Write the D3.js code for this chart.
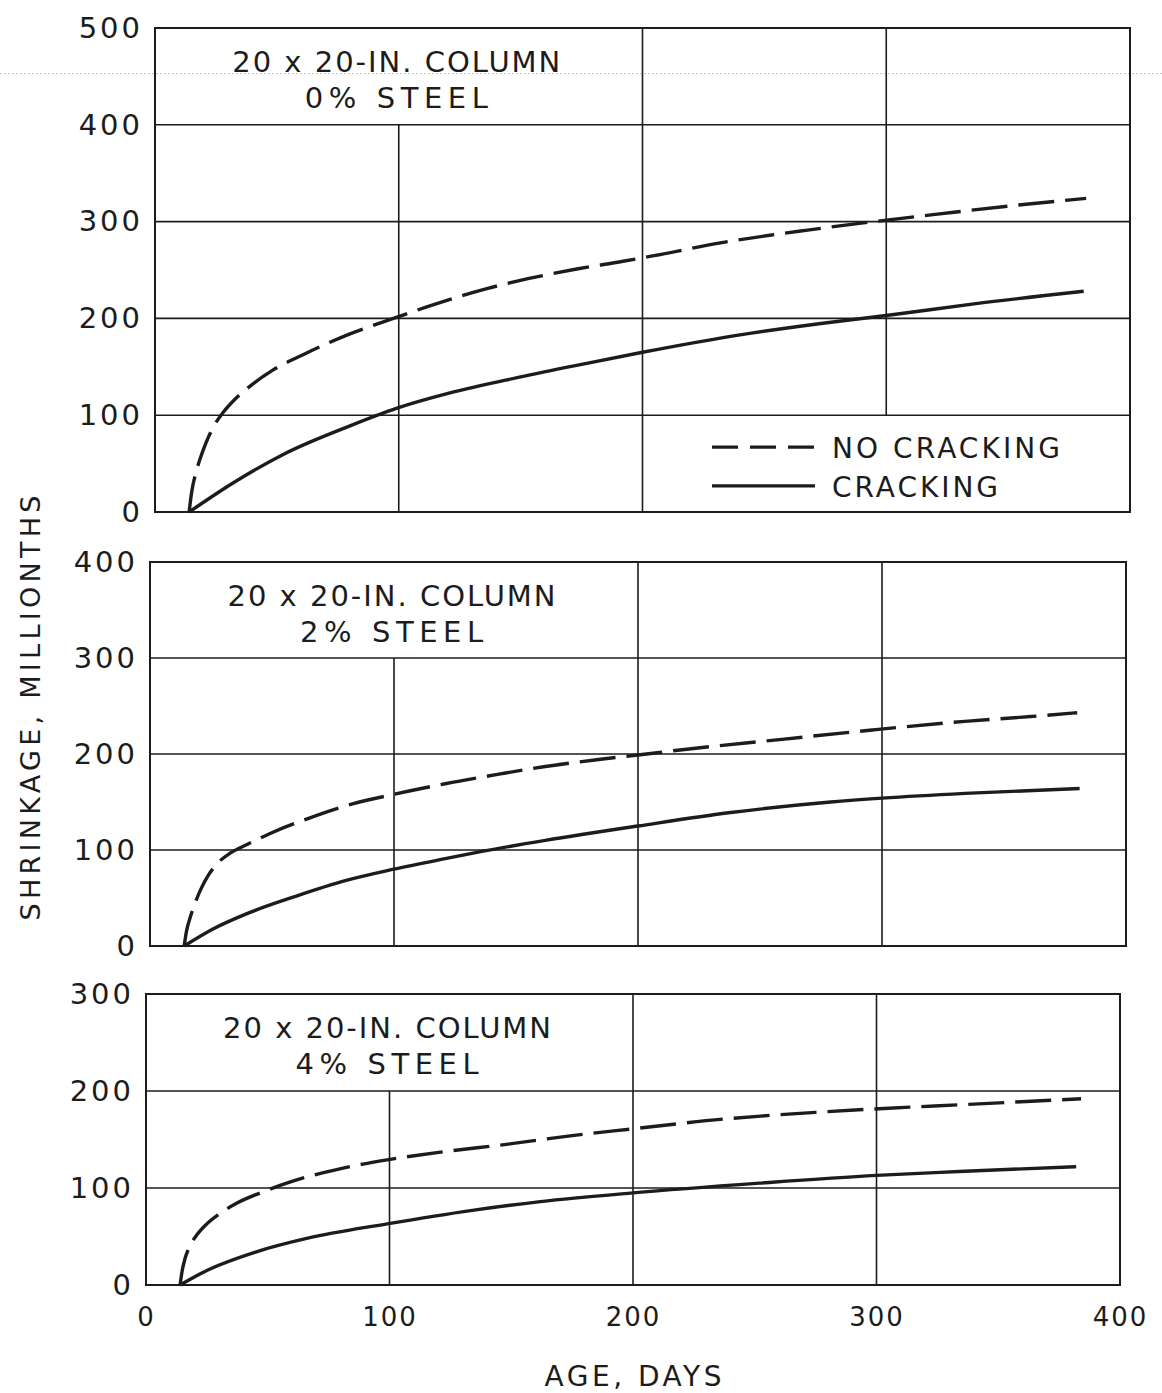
<!DOCTYPE html>
<html>
<head>
<meta charset="utf-8">
<script src="https://cdn.jsdelivr.net/npm/d3@7"></script>
<style>
  html, body { margin: 0; padding: 0; background: #fff; }
  svg { display: block; }
  text { font-family: "DejaVu Sans", sans-serif; fill: #1c1c1c; }
</style>
</head>
<body>
<svg id="chart" width="1162" height="1393"></svg>
<script>
// Shrinkage of 20 x 20-in. concrete columns (millionths) against age (days)

const panelTitles = ["20 x 20-IN. COLUMN", "20 x 20-IN. COLUMN", "20 x 20-IN. COLUMN"];
const steelLabels = ["0% STEEL", "2% STEEL", "4% STEEL"];
const yMaxima = [500, 400, 300];
const yTickValues = [
  [0, 100, 200, 300, 400, 500],
  [0, 100, 200, 300, 400],
  [0, 100, 200, 300]
];
const xTickValues = [0, 100, 200, 300, 400];
const seriesNames = ["NO CRACKING", "CRACKING"];
const xAxisTitle = "AGE, DAYS";
const yAxisTitle = "SHRINKAGE, MILLIONTHS";

// [age in days, shrinkage in millionths]
const noCracking0 = [[14,0],[15,20],[16.5,38],[18.5,55],[21,72],[24,88],[28,103],[33,117],[40,132],
  [48,146],[62,164],[80,184],[99,201],[114,214],[135,230],[153,241],[173,251],[192,259],[203,264],
  [232,278],[267,291],[295,300],[322,308],[350,316],[382,324]];
const cracking0 = [[14,0],[32,30],[53,60],[80,89],[99,107],[121,123],[149,139],[176,153],[200,165],
  [240,183],[274,195],[300,203],[336,215],[381,228]];

const noCracking2 = [[14,0],[15,16],[16.5,30],[18.5,45],[21,60],[24,74],[28,87],[33,97],[40,106],
  [49,117],[65,133],[83,148],[100,158],[121,169],[143,179],[162,187],[183,194],[200,199],[220,205],
  [258,215],[296,225],[334,234],[361,239],[380,243]];
const cracking2 = [[14,0],[26,18],[39,33],[60,52],[80,68],[100,80],[121,91],[135,98],[162,110],
  [200,125],[238,139],[279,150],[300,154],[334,159],[381,164]];

const noCracking4 = [[14,0],[14.8,14],[16,27],[18,40],[21,52],[25,63],[30,73],[37,84],[47,95],
  [59,106],[80,120],[99,129],[121,137],[148,145],[175,154],[200,161],[237,171],[275,178],[303,182],
  [336,186],[384,192]];
const cracking4 = [[14,0],[25,15],[45,34],[66,48],[99,63],[134,77],[162,86],[200,95],[252,105],
  [300,113],[334,117],[382,122]];

// Vertical grid segments per panel: [age, from value, to value]
const verticalGrid = [
  [[100, 0, 400], [200, 0, 500], [300, 100, 500]],
  [[100, 0, 300], [200, 0, 400], [300, 0, 400]],
  [[100, 0, 200], [200, 0, 300], [300, 0, 300]]
];

const seriesByPanel = [
  [noCracking0, cracking0],
  [noCracking2, cracking2],
  [noCracking4, cracking4]
];

// Pixel frame of each panel
const frames = [
  { x0: 155, x1: 1130, yBottom: 512, yTop: 28 },
  { x0: 150, x1: 1126, yBottom: 946, yTop: 562 },
  { x0: 146, x1: 1120, yBottom: 1285, yTop: 994 }
];

const INK = "#1c1c1c";
const svg = d3.select("#chart");

// faint rule across the top of the sheet
svg.append("line")
  .attr("x1", 0).attr("x2", 1162).attr("y1", 73.5).attr("y2", 73.5)
  .attr("stroke", "#c4c4c4").attr("stroke-width", 1)
  .attr("stroke-dasharray", "2,2");

const line = d3.line().curve(d3.curveMonotoneX);

frames.forEach((f, i) => {
  const x = d3.scaleLinear().domain([0, 400]).range([f.x0, f.x1]);
  const y = d3.scaleLinear().domain([0, yMaxima[i]]).range([f.yBottom, f.yTop]);
  const g = svg.append("g").attr("class", "panel");

  // horizontal grid lines
  g.selectAll("line.hgrid")
    .data(yTickValues[i].filter(v => v > 0 && v < yMaxima[i]))
    .join("line")
    .attr("x1", x(0)).attr("x2", x(400))
    .attr("y1", d => y(d)).attr("y2", d => y(d))
    .attr("stroke", INK).attr("stroke-width", 1.6);

  // vertical grid lines
  g.selectAll("line.vgrid")
    .data(verticalGrid[i])
    .join("line")
    .attr("x1", d => x(d[0])).attr("x2", d => x(d[0]))
    .attr("y1", d => y(d[1])).attr("y2", d => y(d[2]))
    .attr("stroke", INK).attr("stroke-width", 1.6);

  // frame
  g.append("rect")
    .attr("x", x(0)).attr("y", y(yMaxima[i]))
    .attr("width", x(400) - x(0)).attr("height", y(0) - y(yMaxima[i]))
    .attr("fill", "none").attr("stroke", INK).attr("stroke-width", 2);

  // y axis labels
  const yAxis = g.append("g")
    .attr("transform", `translate(${x(0)},0)`)
    .call(d3.axisLeft(y).tickValues(yTickValues[i]).tickSize(0).tickPadding(12).tickFormat(d3.format("d")));
  yAxis.select(".domain").remove();
  yAxis.selectAll("text")
    .attr("font-family", "DejaVu Sans, sans-serif")
    .attr("font-size", 29)
    .attr("letter-spacing", 3)
    .attr("fill", INK);

  // panel title
  const cx = x(99);
  g.append("text")
    .attr("x", cx).attr("y", y(yMaxima[i]) + 44)
    .attr("text-anchor", "middle")
    .attr("font-size", 29)
    .attr("textLength", 328).attr("lengthAdjust", "spacing")
    .text(panelTitles[i]);
  g.append("text")
    .attr("x", cx).attr("y", y(yMaxima[i]) + 80)
    .attr("text-anchor", "middle")
    .attr("font-size", 29)
    .attr("textLength", 183).attr("lengthAdjust", "spacing")
    .text(steelLabels[i]);

  // curves
  const [noCrack, crack] = seriesByPanel[i];
  g.append("path")
    .datum(noCrack.map(d => [x(d[0]), y(d[1])]))
    .attr("d", line)
    .attr("fill", "none").attr("stroke", INK).attr("stroke-width", 3.4)
    .attr("stroke-dasharray", "36,11");
  g.append("path")
    .datum(crack.map(d => [x(d[0]), y(d[1])]))
    .attr("d", line)
    .attr("fill", "none").attr("stroke", INK).attr("stroke-width", 3.4);

  // legend in the first panel
  if (i === 0) {
    const lg = g.append("g");
    const rows = [{ v: 67, dash: "26,12", len: 228 }, { v: 27, dash: null, len: 166 }];
    rows.forEach((r, k) => {
      lg.append("line")
        .attr("x1", 712).attr("x2", 815)
        .attr("y1", y(r.v)).attr("y2", y(r.v))
        .attr("stroke", INK).attr("stroke-width", 3.2)
        .attr("stroke-dasharray", r.dash);
      lg.append("text")
        .attr("x", 832).attr("y", y(r.v) + 11)
        .attr("font-size", 28)
        .attr("textLength", r.len).attr("lengthAdjust", "spacing")
        .text(seriesNames[k]);
    });
  }

  // x axis labels under the last panel
  if (i === frames.length - 1) {
    const xAxis = g.append("g")
      .attr("transform", `translate(0,${y(0)})`)
      .call(d3.axisBottom(x).tickValues(xTickValues).tickSize(0).tickFormat(d3.format("d")));
    xAxis.select(".domain").remove();
    xAxis.selectAll("text")
      .attr("y", 41).attr("dy", 0)
      .attr("font-family", "DejaVu Sans, sans-serif")
      .attr("font-size", 26)
      .attr("letter-spacing", 2)
      .attr("fill", INK);
  }
});

// axis titles
svg.append("text")
  .attr("x", 633).attr("y", 1386)
  .attr("text-anchor", "middle")
  .attr("font-size", 28)
  .attr("textLength", 177).attr("lengthAdjust", "spacing")
  .text(xAxisTitle);

svg.append("text")
  .attr("transform", "translate(40,708) rotate(-90)")
  .attr("text-anchor", "middle")
  .attr("font-size", 27)
  .attr("textLength", 425).attr("lengthAdjust", "spacing")
  .text(yAxisTitle);
</script>
</body>
</html>
